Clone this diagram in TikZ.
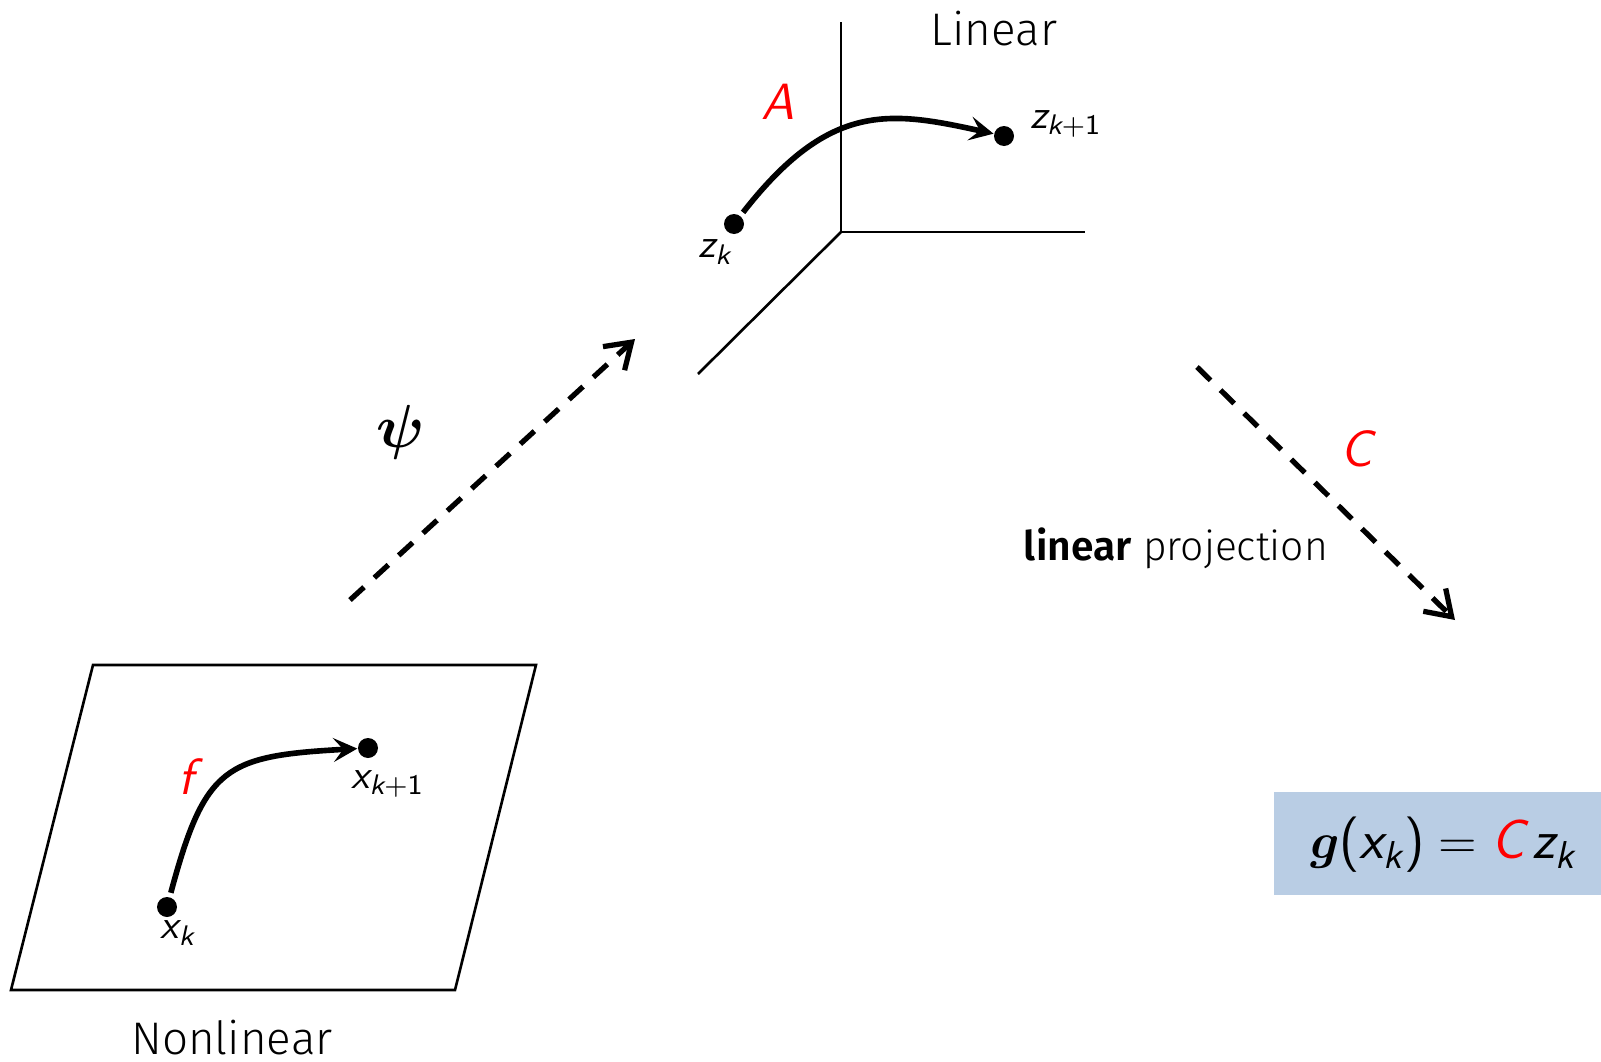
\documentclass[tikz,border=0pt]{standalone}
\usepackage{amsmath}
\usepackage{xcolor}
\usepackage{fontspec}
\setmainfont{Fira Sans}[UprightFont=* Light,BoldFont=* SemiBold]
\usetikzlibrary{positioning,arrows.meta}

\definecolor{boxblue}{RGB}{185,205,228}
\newcommand{\sv}[1]{\textsf{\itshape #1}}

\begin{document}
\begin{tikzpicture}[x=1cm,y=1cm,
  dot/.style={circle,fill,inner sep=0pt,minimum size=0.2cm},
  evol/.style={line width=1.6pt,-{Stealth[length=2.4mm,width=2.4mm,inset=1mm]}},
  lift/.style={line width=1.5pt,dash pattern=on 0.19cm off 0.14cm,-{Straight Barb[length=2.4mm,width=3.2mm]}},
  sub/.style={font=\fontsize{11.5}{13}\selectfont},
  op/.style={text=red,font=\fontsize{14.5}{16}\selectfont},
  title/.style={font=\fontsize{13}{15}\selectfont}]
  \useasboundingbox (0,0) rectangle (16.01,10.61);
  % nonlinear plane
  \draw[line width=0.75pt] (0.93,3.96) -- (5.36,3.96) -- (4.55,0.71) -- (0.11,0.71) -- cycle;
  \node[title,anchor=base] (nonlin) at (2.32,0.07) {Nonlinear};
  \node[dot] (xk) at (1.67,1.54) {};
  \node[dot] (xkk) at (3.68,3.13) {};
  \node[sub] (xklbl) at (1.78,1.28) {$\sv{x}_{\sv{k}}$};
  \node[sub] (xkklbl) at (3.88,2.77) {$\sv{x}_{\sv{k}+\textsf{1}}$};
  \node[op] (f) at (1.91,2.84) {\sv{f}};
  \draw[evol,shorten <=0.4mm] (xk) .. controls (2.05,2.95) and (2.25,3.05) .. (xkk);
  % linear space
  \coordinate (o) at (8.41,8.29);
  \draw[line width=0.75pt] (8.41,10.39) -- (o) -- (10.85,8.29);
  \draw[line width=0.75pt] (o) -- (6.98,6.87);
  \node[title] (lin) at (9.94,10.32) {Linear};
  \node[dot] (zk) at (7.34,8.37) {};
  \node[dot] (zkk) at (10.04,9.25) {};
  \node[sub] (zklbl) at (7.15,8.09) {$\sv{z}_{\sv{k}}$};
  \node[sub] (zkklbl) at (10.66,9.37) {$\sv{z}_{\sv{k}+\textsf{1}}$};
  \node[op] (A) at (7.78,9.59) {\sv{A}};
  \draw[evol,shorten <=0.4mm] (zk) .. controls (8.3,9.6) and (8.9,9.5) .. (zkk);
  % maps
  \coordinate (psis) at (3.50,4.61);
  \coordinate (psie) at (6.35,7.22);
  \draw[lift] (psis) -- (psie);
  \node[font=\fontsize{19}{22}\selectfont] (psi) at (4.01,6.29) {$\boldsymbol{\psi}$};
  \coordinate (projs) at (11.97,6.94);
  \coordinate (proje) at (14.55,4.41);
  \draw[lift] (projs) -- (proje);
  \node[op] (C) at (13.59,6.12) {\sv{C}};
  \node[title,font=\fontsize{11.6}{14}\selectfont,anchor=base] (proj) at (11.76,5.01) {\textbf{linear} projection};
  % output
  \fill[boxblue] (12.74,1.66) rectangle (16.01,2.69);
  \node[font=\fontsize{15.8}{18}\selectfont] (gx) at (14.43,2.16)
    {$\boldsymbol{g}\textsf{(}\sv{x}_{\sv{k}}\textsf{)} = \textcolor{red}{\sv{C}}\,\sv{z}_{\sv{k}}$};
\end{tikzpicture}
\end{document}
